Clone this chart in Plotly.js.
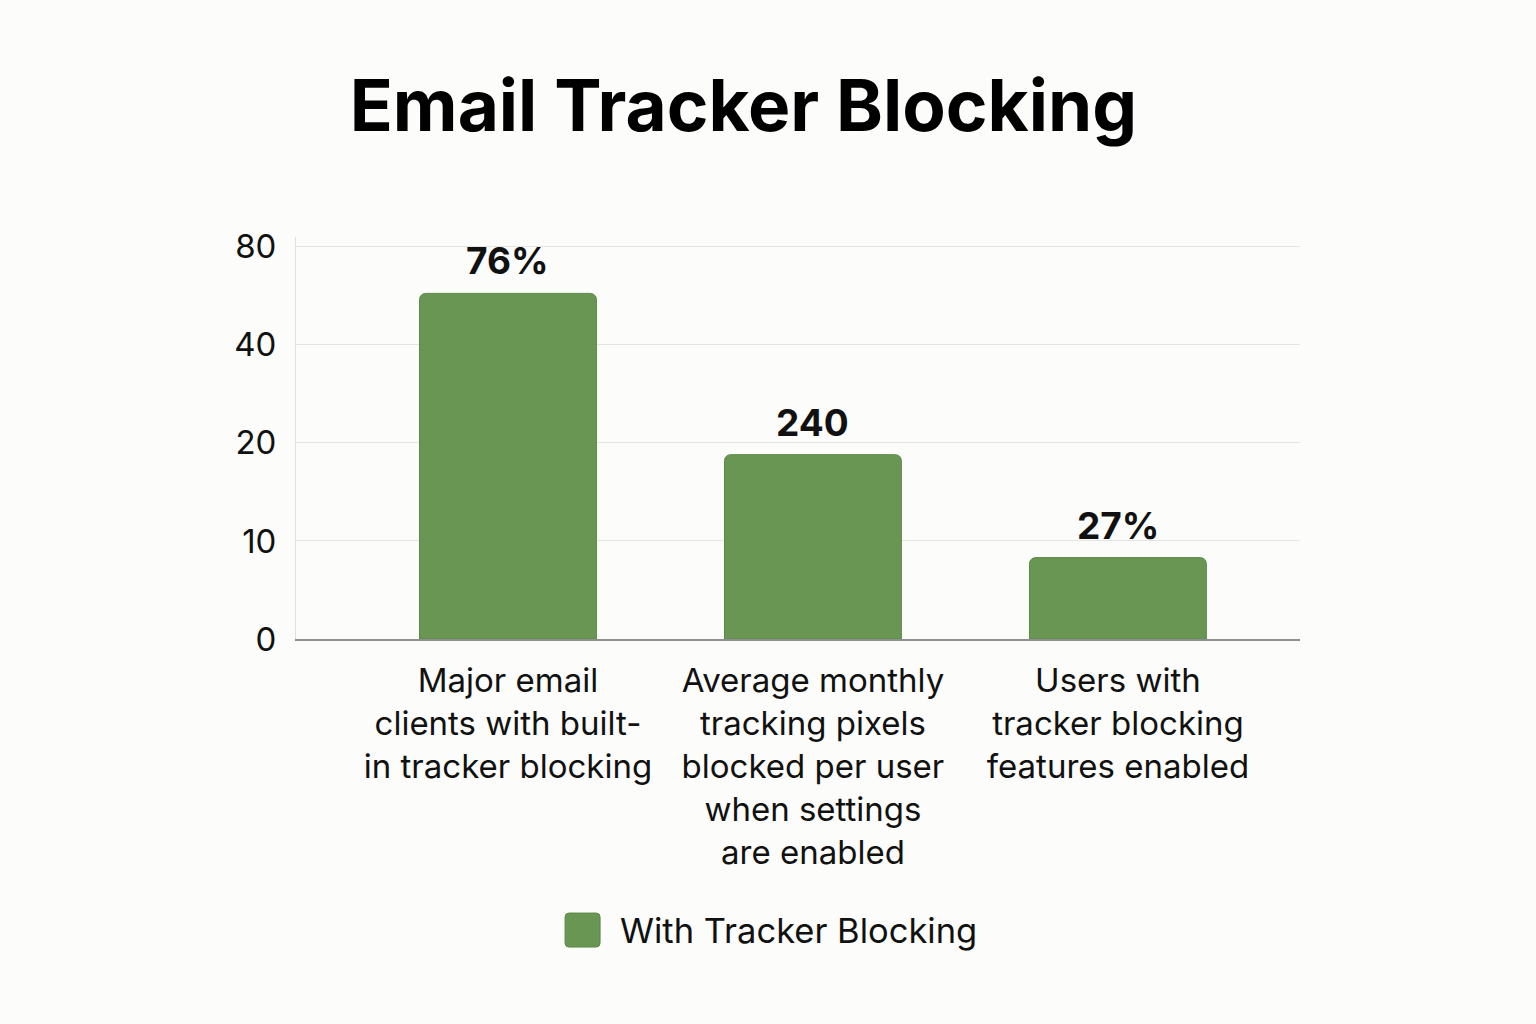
<!DOCTYPE html>
<html>
<head>
<meta charset="utf-8">
<script src="https://cdn.plot.ly/plotly-3.0.1.min.js"></script>
<style>
  html, body { margin: 0; padding: 0; background: #fcfcfa; }
  #graph { width: 1536px; height: 1024px; }
</style>
</head>
<body>
<div id="graph"></div>
<script>
var categories = [
    'Major email<br>clients with built-<br>in tracker blocking',
    'Average monthly<br>tracking pixels<br>blocked per user<br>when settings<br>are enabled',
    'Users with<br>tracker blocking<br>features enabled'
];
var barValues = [61, 18.8, 8.3];          // heights as read on the drawn axis
var barLabels = ['76%', '240', '27%'];
var seriesName = 'With Tracker Blocking';
var yTickValues = [0, 10, 20, 40, 80];    // evenly spaced on the chart

var barColor = '#6a9654';
var font = 'Inter, "Liberation Sans", sans-serif';

// the y axis puts its ticks at equal steps, so values sit between ticks linearly
function toAxis(v) {
    for (var i = 0; i < yTickValues.length - 1; i++) {
        var a = yTickValues[i], b = yTickValues[i + 1];
        if (v <= b) {
            return i + (v - a) / (b - a);
        }
    }
    return yTickValues.length - 1;
}

var yPos = [];
for (var i = 0; i < barValues.length; i++) {
    yPos.push(toAxis(barValues[i]));
}
var tickPos = [];
var tickText = [];
for (var i = 0; i < yTickValues.length; i++) {
    tickPos.push(i);
    tickText.push(String(yTickValues[i]));
}

var trace = {
    type: 'bar',
    x: categories,
    y: yPos,
    name: seriesName,
    width: 0.58,
    marker: {
        color: barColor,
        line: { color: '#5b8a47', width: 1 },
        cornerradius: 6
    },
    hoverinfo: 'skip'
};

var annotations = [];
for (var i = 0; i < categories.length; i++) {
    annotations.push({
        x: categories[i],
        y: yPos[i],
        xref: 'x',
        yref: 'y',
        text: barLabels[i],
        showarrow: false,
        yanchor: 'bottom',
        yshift: 8,
        font: { family: font, size: 37, color: '#111111', weight: 'bold' }
    });
}
// legend drawn by hand so the swatch can be large
annotations.push({
    x: 0.321, y: -0.724, xref: 'paper', yref: 'paper',
    xanchor: 'left', yanchor: 'middle',
    text: seriesName, showarrow: false,
    font: { family: font, size: 34.5, color: '#111111' }
});

var layout = {
    width: 1536,
    height: 1024,
    paper_bgcolor: '#fcfcfa',
    plot_bgcolor: '#fcfcfa',
    margin: { l: 296, r: 236, t: 237, b: 385, pad: 0 },
    showlegend: false,
    title: {
        text: 'Email Tracker Blocking',
        x: 0.484, xanchor: 'center',
        y: 0.896, yanchor: 'middle', yref: 'container',
        font: { family: font, size: 71, color: '#000000', weight: 'bold' }
    },
    xaxis: {
        type: 'category',
        range: [-0.695, 2.597],
        showgrid: false,
        showline: true,
        linecolor: '#8f8f8f',
        linewidth: 1.5,
        ticks: '',
        ticklabelstandoff: 12,
        tickfont: { family: font, size: 33, color: '#111111' }
    },
    yaxis: {
        range: [0, 4.1],
        tickvals: tickPos,
        ticktext: tickText,
        showgrid: true,
        gridcolor: '#e4e4e4',
        gridwidth: 1,
        zeroline: false,
        showline: true,
        linecolor: '#e0e0e0',
        linewidth: 1,
        ticks: '',
        ticklabelstandoff: 12,
        tickfont: { family: font, size: 33, color: '#111111' }
    },
    shapes: [{
        type: 'path',
        xref: 'paper', yref: 'paper',
        xsizemode: 'pixel', ysizemode: 'pixel',
        xanchor: 0.268, yanchor: -0.724,
        path: 'M4,-17 H31 Q35,-17 35,-13 V13 Q35,17 31,17 H4 Q0,17 0,13 V-13 Q0,-17 4,-17 Z',
        fillcolor: barColor,
        line: { color: '#5b8a47', width: 1 }
    }],
    annotations: annotations,
    bargap: 0.42
};

Plotly.newPlot('graph', [trace], layout, { displayModeBar: false, staticPlot: true });
</script>
</body>
</html>
